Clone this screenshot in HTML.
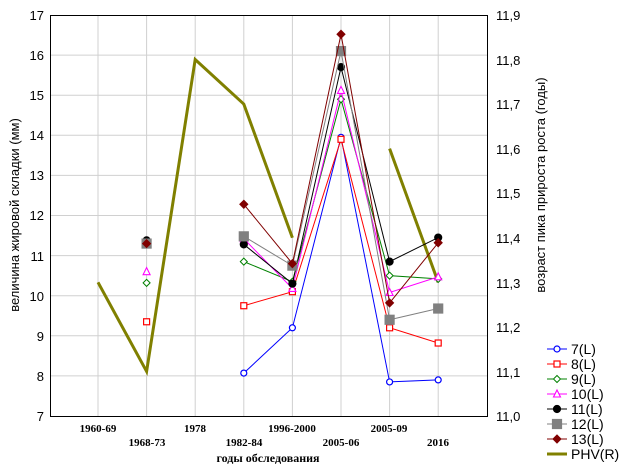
<!DOCTYPE html>
<html><head><meta charset="utf-8"><style>
body{margin:0;background:#fff}
svg{display:block;font-family:"Liberation Sans",sans-serif}
.t{font-size:13px;fill:#000}
.s{font-family:"Liberation Serif",serif;font-size:11px;font-weight:bold;fill:#000}
</style></head><body>
<svg id="c" width="624" height="468" viewBox="0 0 624 468" xmlns="http://www.w3.org/2000/svg">
<g id="grid" stroke="#d0d0d0" stroke-width="1"></g>
<rect x="50.5" y="15.5" width="437" height="401" fill="none" stroke="#000"/>
<g class="t" text-anchor="end">
<text x="44" y="20">17</text><text x="44" y="60">16</text><text x="44" y="100">15</text><text x="44" y="140">14</text><text x="44" y="180">13</text><text x="44" y="220">12</text><text x="44" y="261">11</text><text x="44" y="301">10</text><text x="44" y="341">9</text><text x="44" y="381">8</text><text x="44" y="421">7</text>
</g>
<g class="t">
<text x="496" y="20">11,9</text><text x="496" y="65">11,8</text><text x="496" y="109">11,7</text><text x="496" y="154">11,6</text><text x="496" y="198">11,5</text><text x="496" y="243">11,4</text><text x="496" y="288">11,3</text><text x="496" y="332">11,2</text><text x="496" y="377">11,1</text><text x="496" y="421">11,0</text>
</g>
<g class="s" text-anchor="middle">
<text x="98" y="432">1960-69</text><text x="147" y="446">1968-73</text><text x="195" y="432">1978</text><text x="244" y="446">1982-84</text><text x="292" y="432">1996-2000</text><text x="341" y="446">2005-06</text><text x="389" y="432">2005-09</text><text x="438" y="446">2016</text>
<text x="268" y="462" style="font-size:12px">годы обследования</text>
</g>
<text class="t" transform="translate(19,215) rotate(-90)" text-anchor="middle" style="font-size:13px">величина жировой складки (мм)</text>
<text class="t" transform="translate(545,185) rotate(-90)" text-anchor="middle" style="font-size:13px">возраст пика прироста роста (годы)</text>
<g id="series"></g>
<g id="legend" class="t" style="font-size:14px">
<text x="572" y="424">7(L)</text><text x="572" y="442">8(L)</text><text x="572" y="460">9(L)</text>
</g>
</svg>
<script>
var NS="http://www.w3.org/2000/svg",g=document.getElementById('grid'),S=document.getElementById('series'),L=document.getElementById('legend');
function el(p,t,a){var e=document.createElementNS(NS,t);for(var k in a)e.setAttribute(k,a[k]);p.appendChild(e);return e}
function X(i){return 98+48.6*i}function Y(v){return 416-(v-7)*40.1}function YR(v){return 416-(v-11)*445.6}
for(var v=8;v<=16;v++)el(g,'line',{x1:50,x2:487,y1:Y(v),y2:Y(v)});
for(var i=0;i<8;i++)el(g,'line',{x1:X(i),x2:X(i),y1:15,y2:416});
var ser=[
['#0000ff','oc',[null,null,null,8.07,9.2,13.95,7.85,7.9]],
['#ff0000','os',[null,9.35,null,9.75,10.1,13.9,9.2,8.82]],
['#008000','od',[null,10.32,null,10.85,10.35,14.9,10.5,10.42]],
['#ff00ff','ot',[null,10.6,null,11.42,10.18,15.12,10.08,10.47]],
['#000000','fc',[null,11.38,null,11.28,10.3,15.7,10.85,11.45]],
['#808080','fs',[null,11.3,null,11.48,10.75,16.1,9.4,9.68]],
['#800000','fd',[null,11.3,null,12.28,10.8,16.52,9.82,11.32]]];
function mk(p,t,x,y,c){var f=t[0]=='f'?c:'#fff',k=t[1];
if(k=='c')el(p,'circle',{cx:x,cy:y,r:t[0]=='f'?3.5:3,fill:f,stroke:c,'stroke-width':1.2});
if(k=='s'){var r=t[0]=='f'?4.5:3;el(p,'rect',{x:x-r,y:y-r,width:2*r,height:2*r,fill:f,stroke:c,'stroke-width':1.2})}
if(k=='d'){var r=t[0]=='f'?4:3.5;el(p,'polygon',{points:[x,y-r,x+r,y,x,y+r,x-r,y].join(' '),fill:f,stroke:c,'stroke-width':1})}
if(k=='t')el(p,'polygon',{points:[x,y-4,x+3.5,y+3,x-3.5,y+3].join(' '),fill:f,stroke:c,'stroke-width':1.1});
if(k=='T')el(p,'polygon',{points:[x,y-4,x+4,y+3,x-4,y+3].join(' '),fill:c});}
function draw(c,t,vals,yf,w){var pts=[];
for(var i=0;i<=vals.length;i++){var v=vals[i];if(v==null||i==vals.length){if(pts.length>1)el(S,'polyline',{points:pts.join(' '),fill:'none',stroke:c,'stroke-width':w});pts=[];}else pts.push(X(i)+','+yf(v));}
vals.forEach(function(v,i){if(v!=null)mk(S,t,X(i),yf(v),c)});}
draw('#808000','T',[11.3,11.1,11.8,11.7,11.4,null,11.6,11.3],YR,3);
ser.forEach(function(s){draw(s[0],s[1],s[2],Y,1)});
var names=['7(L)','8(L)','9(L)','10(L)','11(L)','12(L)','13(L)','PHV(R)'];
L.innerHTML='';
ser.concat([['#808000','T']]).forEach(function(s,i){var y=349+15*i;
el(L,'line',{x1:547,x2:567,y1:y,y2:y,stroke:s[0],'stroke-width':s[1]=='T'?3:1});mk(L,s[1],557,y,s[0]);
var tx=el(L,'text',{x:571,y:y+5});tx.textContent=names[i];});
</script>
</body></html>
